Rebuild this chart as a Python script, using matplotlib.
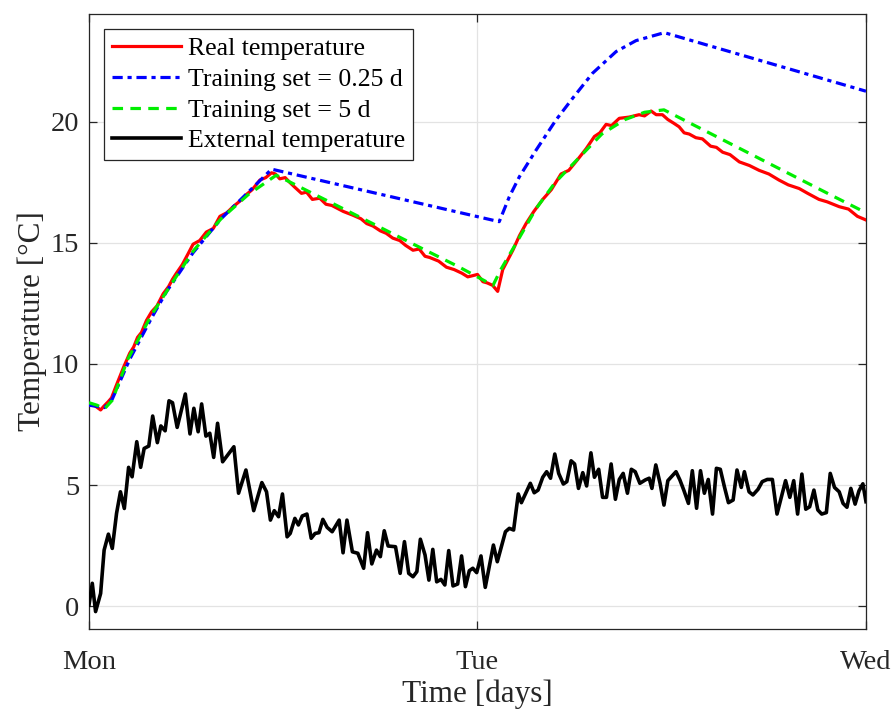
import matplotlib
matplotlib.use("Agg")
import matplotlib.pyplot as plt

plt.rcParams['font.family'] = ['Liberation Serif', 'DejaVu Serif']

# time in days from Monday 00:00
t_real = [0, 0.015, 0.03, 0.038, 0.05, 0.058, 0.07, 0.08, 0.09, 0.105, 0.115, 0.125, 0.135,
          0.148, 0.161, 0.175, 0.191, 0.205, 0.215, 0.225, 0.24, 0.255, 0.268, 0.285, 0.302,
          0.32, 0.337, 0.355, 0.371, 0.39, 0.405, 0.42, 0.44, 0.455, 0.47, 0.48, 0.491, 0.505,
          0.517, 0.53, 0.547, 0.56, 0.575, 0.594, 0.61, 0.625, 0.637, 0.655, 0.679, 0.7, 0.715,
          0.731, 0.75, 0.765, 0.782, 0.8, 0.815, 0.834, 0.85, 0.865, 0.877, 0.9, 0.92, 0.94,
          0.96, 0.975, 0.988, 1.0, 1.014, 1.025, 1.039, 1.052, 1.065, 1.078, 1.091, 1.108,
          1.125, 1.145, 1.168, 1.19, 1.215, 1.235, 1.258, 1.28, 1.301, 1.315, 1.331, 1.345,
          1.365, 1.39, 1.416, 1.43, 1.447, 1.46, 1.476, 1.49, 1.505, 1.519, 1.532, 1.545,
          1.562, 1.579, 1.6, 1.615, 1.631, 1.65, 1.674, 1.7, 1.725, 1.75, 1.776, 1.8, 1.828,
          1.85, 1.879, 1.9, 1.931, 1.955, 1.978, 2.0]
real_temp = [8.30, 8.28, 8.10, 8.25, 8.45, 8.6, 9.1, 9.5, 9.9, 10.45, 10.7, 11.1, 11.3,
             11.8, 12.15, 12.4, 12.9, 13.2, 13.5, 13.75, 14.1, 14.55, 14.95, 15.1, 15.45,
             15.6, 16.1, 16.25, 16.5, 16.75, 17.0, 17.2, 17.6, 17.7, 17.9, 17.85, 17.65, 17.7,
             17.5, 17.3, 17.05, 17.1, 16.8, 16.85, 16.6, 16.55, 16.45, 16.3, 16.15, 16.0, 15.8,
             15.7, 15.5, 15.4, 15.2, 15.1, 14.9, 14.7, 14.75, 14.45, 14.4, 14.25, 14.0, 13.9,
             13.75, 13.6, 13.65, 13.7, 13.4, 13.35, 13.25, 13.0, 13.9, 14.3, 14.7, 15.3,
             15.8, 16.3, 16.8, 17.2, 17.85, 18.0, 18.45, 18.9, 19.4, 19.55, 19.9, 19.85,
             20.15, 20.2, 20.3, 20.25, 20.45, 20.3, 20.3, 20.1, 19.95, 19.8, 19.55, 19.5,
             19.35, 19.3, 19.0, 18.95, 18.75, 18.65, 18.35, 18.2, 18.0, 17.85, 17.6, 17.4, 17.25,
             17.05, 16.8, 16.7, 16.5, 16.4, 16.1, 15.95]

t_short = [0, 0.02, 0.04, 0.06, 0.105, 0.161, 0.2, 0.268, 0.34, 0.41, 0.47, 1.056, 1.082,
           1.108, 1.151, 1.202, 1.245, 1.296, 1.357, 1.408, 1.481, 2.0]
short_train = [8.3, 8.25, 8.2, 8.55, 10.2, 11.9, 13.0, 14.6, 16.0, 17.1, 18.05, 15.88, 16.91,
               17.74, 18.84, 20.08, 20.98, 22.01, 22.91, 23.36, 23.69, 21.27]

t_long = [0, 0.02, 0.04, 0.06, 0.1, 0.16, 0.22, 0.27, 0.34, 0.41, 0.482, 0.65, 0.75, 0.85,
          0.95, 1.04, 1.06, 1.1, 1.15, 1.2, 1.26, 1.32, 1.38, 1.43, 1.48, 1.6, 1.7, 1.8, 1.9, 2.0]
long_train = [8.4, 8.3, 8.15, 8.5, 10.2, 12.0, 13.5, 14.7, 16.0, 17.0, 17.8, 16.45, 15.64, 14.83,
              14.03, 13.25, 13.9, 15.0, 16.4, 17.5, 18.5, 19.5, 20.1, 20.4, 20.5, 19.52, 18.7,
              17.88, 17.06, 16.25]

t_ext = [0, 0.0085, 0.017, 0.030, 0.039, 0.050, 0.060, 0.071, 0.081, 0.091, 0.102, 0.111,
         0.123, 0.133, 0.142, 0.154, 0.164, 0.176, 0.185, 0.196, 0.206, 0.215, 0.227, 0.248,
         0.260, 0.270, 0.281, 0.290, 0.301, 0.311, 0.321, 0.331, 0.344, 0.373, 0.385, 0.404,
         0.424, 0.445, 0.457, 0.467, 0.477, 0.488, 0.498, 0.510, 0.518, 0.530, 0.539, 0.549,
         0.561, 0.572, 0.582, 0.592, 0.602, 0.613, 0.626, 0.644, 0.654, 0.664, 0.678, 0.692,
         0.707, 0.717, 0.728, 0.740, 0.750, 0.760, 0.770, 0.789, 0.801, 0.812, 0.823, 0.834,
         0.844, 0.853, 0.865, 0.875, 0.885, 0.895, 0.906, 0.916, 0.926, 0.937, 0.949, 0.959,
         0.969, 0.979, 0.988, 0.998, 1.009, 1.020, 1.041, 1.051, 1.072, 1.082, 1.093, 1.105,
         1.113, 1.136, 1.146, 1.156, 1.168, 1.178, 1.188, 1.199, 1.209, 1.221, 1.230, 1.241,
         1.250, 1.260, 1.271, 1.281, 1.292, 1.301, 1.312, 1.322, 1.332, 1.344, 1.355, 1.365,
         1.375, 1.386, 1.396, 1.406, 1.418, 1.432, 1.442, 1.449, 1.459, 1.470, 1.480, 1.490,
         1.511, 1.521, 1.531, 1.543, 1.553, 1.564, 1.574, 1.584, 1.594, 1.605, 1.615, 1.625,
         1.636, 1.646, 1.658, 1.668, 1.679, 1.687, 1.699, 1.709, 1.722, 1.733, 1.746, 1.759,
         1.771, 1.783, 1.793, 1.804, 1.814, 1.824, 1.835, 1.845, 1.855, 1.866, 1.876, 1.886,
         1.898, 1.908, 1.919, 1.931, 1.941, 1.951, 1.961, 1.972, 1.982, 1.992, 2.0]
ext_temp = [0.04, 0.94, -0.23, 0.52, 2.31, 2.97, 2.38, 3.83, 4.72, 4.03, 5.73, 5.34,
            6.79, 5.73, 6.51, 6.61, 7.85, 6.75, 7.44, 7.24, 8.48, 8.40, 7.38, 8.76,
            7.11, 8.17, 7.20, 8.35, 7.02, 7.14, 6.14, 7.55, 5.96, 6.58, 4.66, 5.62,
            3.94, 5.10, 4.72, 3.55, 3.94, 3.69, 4.63, 2.86, 3.00, 3.62, 3.35, 3.72,
            3.80, 2.80, 3.00, 3.03, 3.58, 3.25, 3.07, 3.55, 2.20, 3.55, 2.24, 2.18,
            1.56, 3.03, 1.74, 2.31, 2.04, 3.11, 2.48, 2.45, 1.35, 2.66, 1.35, 1.21,
            1.42, 2.76, 2.11, 1.07, 2.34, 1.00, 1.10, 0.87, 2.29, 0.83, 0.91, 2.07,
            0.80, 1.46, 1.56, 1.38, 2.07, 0.77, 2.52, 1.83, 3.07, 3.21, 3.14, 4.63,
            4.27, 5.07, 4.68, 4.79, 5.32, 5.55, 5.28, 6.28, 5.48, 5.04, 5.14, 6.00,
            5.87, 4.86, 5.51, 4.96, 6.33, 5.32, 5.65, 4.49, 4.49, 5.87, 4.41, 5.23,
            5.48, 4.66, 5.65, 5.55, 5.07, 5.21, 5.28, 4.86, 5.83, 5.07, 4.17, 5.18,
            5.55, 5.21, 4.79, 4.24, 5.59, 4.04, 5.59, 4.66, 5.23, 3.80, 5.69, 5.65,
            4.90, 4.27, 4.38, 5.62, 4.90, 5.55, 4.72, 4.59, 4.82, 5.14, 5.23, 5.23,
            3.80, 4.55, 5.18, 4.49, 5.18, 3.80, 5.45, 4.00, 4.10, 4.79, 3.97, 3.80,
            3.86, 5.48, 4.90, 4.72, 4.24, 4.08, 4.86, 4.21, 4.76, 5.05, 4.31]

day_ticks = [0, 1, 2]
day_labels = ['Mon', 'Tue', 'Wed']
y_ticks = [0, 5, 10, 15, 20]

fig = plt.figure(figsize=(8.96, 7.11), dpi=100)
ax = fig.add_axes([0.0993, 0.1153, 0.8672, 0.865])

ax.plot(t_real, real_temp, color='#ff0000', lw=2.3, label='Real temperature', zorder=3)
ax.plot(t_short, short_train, color='#0000ff', lw=2.3, dashes=(3.2, 1.5, 1.3, 1.5),
        label='Training set = 0.25 d', zorder=4)
ax.plot(t_long, long_train, color='#00ee00', lw=2.3, dashes=(3.3, 2.3),
        label='Training set = 5 d', zorder=4)
ax.plot(t_ext, ext_temp, color='black', lw=2.6, label='External temperature', zorder=3)

ax.set_xlim(0, 2)
ax.set_ylim(-0.95, 24.46)
ax.set_xticks(day_ticks)
ax.set_xticklabels(day_labels)
ax.set_yticks(y_ticks)
ax.grid(True, color='#e3e3e3', lw=0.9)
ax.set_axisbelow(True)
ax.tick_params(direction='in', top=True, right=True, length=6, width=0.9,
               color='#262626', labelcolor='#262626', labelsize=20.5)
ax.tick_params(axis='x', pad=15)
ax.tick_params(axis='y', pad=7)
for s in ax.spines.values():
    s.set_color('#262626')
    s.set_linewidth(0.9)

ax.set_xlabel('Time [days]', fontsize=22.5, labelpad=3, color='#262626')
ax.set_ylabel('Temperature [°C]', fontsize=22.5, labelpad=3, color='#262626')

leg = ax.legend(loc='upper left', fontsize=18.5, handlelength=2.7, handletextpad=0.25,
                labelspacing=0.3, borderaxespad=0.6, borderpad=0.3, fancybox=False,
                framealpha=1)
leg.get_frame().set_edgecolor('#262626')
leg.get_frame().set_linewidth(0.9)

fig.savefig('out.png', dpi=100)
